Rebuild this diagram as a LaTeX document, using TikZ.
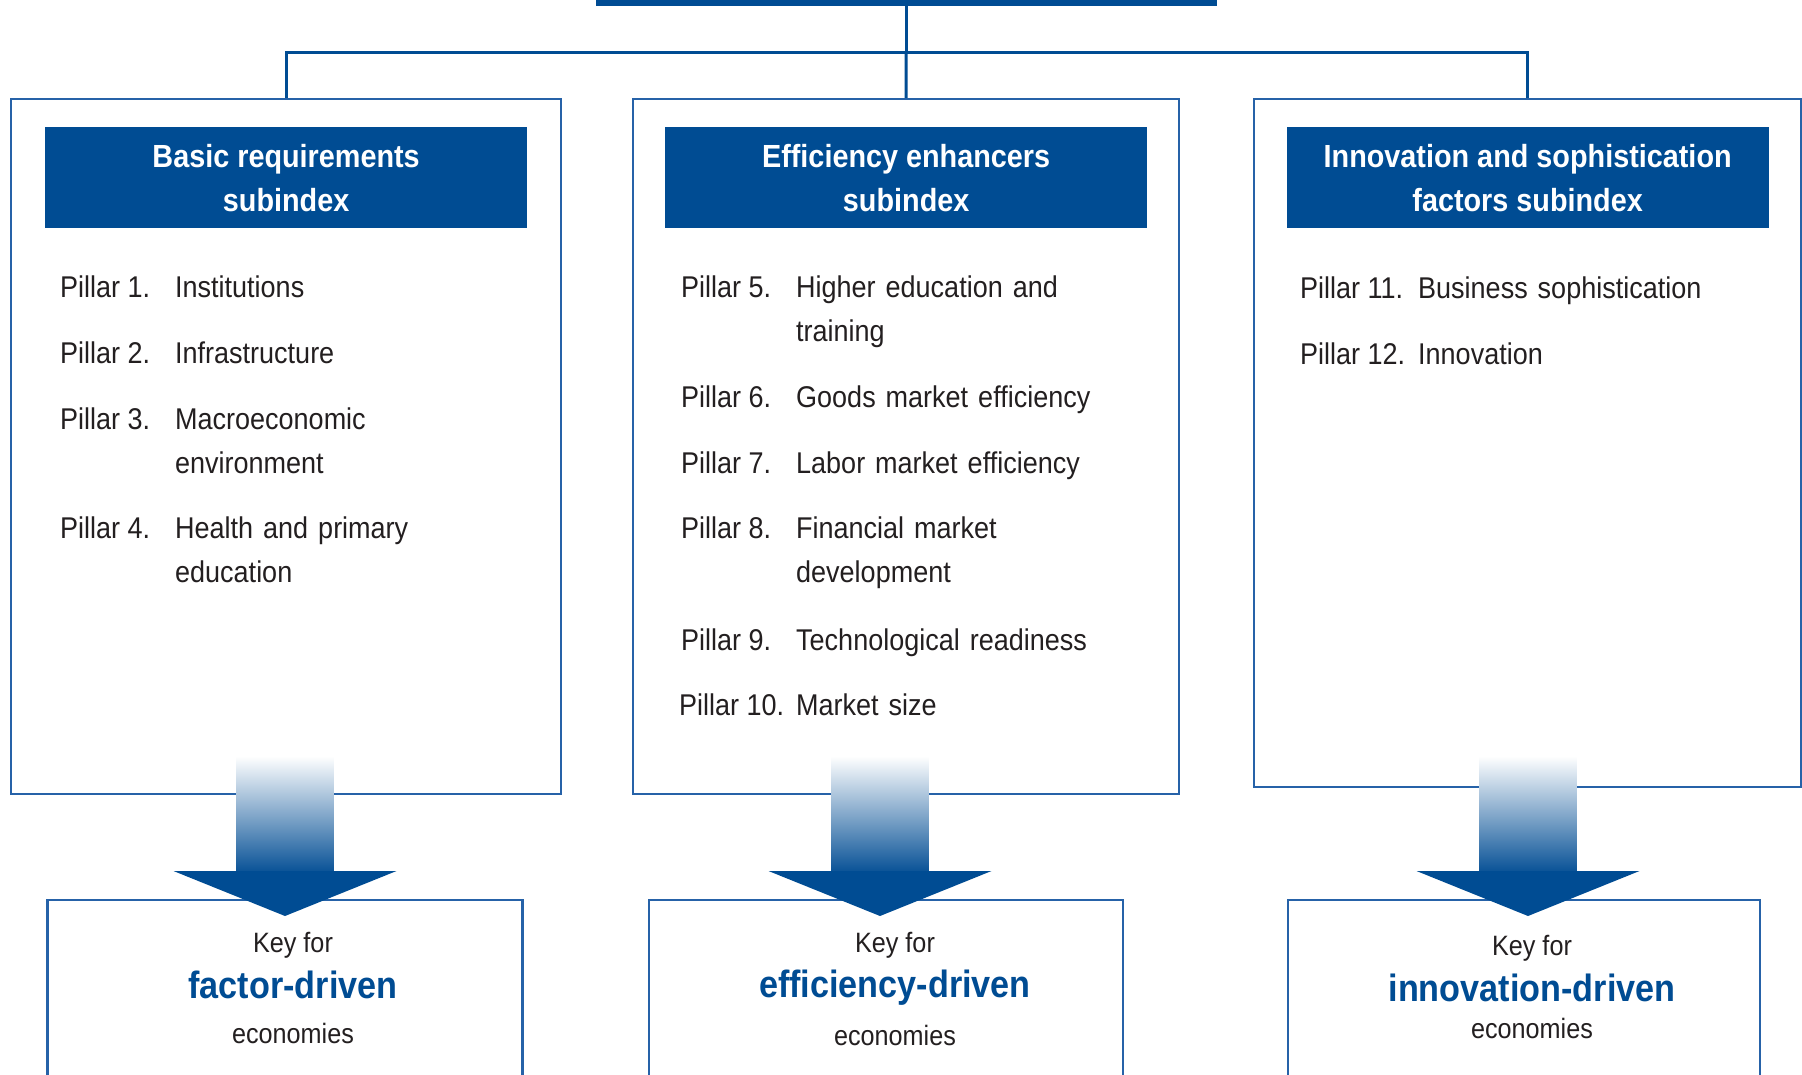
\documentclass[tikz,border=0pt]{standalone}
\usepackage{fontspec}
\setmainfont[FakeStretch=0.9]{Liberation Sans}
\usetikzlibrary{positioning}
\definecolor{wefblue}{RGB}{0,76,147}
\definecolor{frameblue}{RGB}{38,98,168}
\definecolor{ink}{RGB}{35,31,32}

\newcommand{\keyarrow}[1]{%
    \shade[top color=white,bottom color=wefblue]
        (#1-48.5,756) rectangle (#1+48.5,876);
    \fill[wefblue] (#1-111.5,871) -- (#1+111.5,871) -- (#1,916) -- cycle;
}
\newcommand{\keyfor}[6]{% name, x, three baselines, stage
    \node[keytxt] (#1a) at (#2,#3) {Key for};
    \node[keybig] (#1b) at (#2,#4) {#6};
    \node[keytxt] (#1c) at (#2,#5) {economies};
}

\begin{document}
\begin{tikzpicture}[x=1pt,y=-1pt,
    frame/.style={draw=frameblue,line width=2.3pt,fill=white,inner sep=0pt},
    head/.style={fill=wefblue,text=white,font=\fontsize{32}{44}\selectfont\bfseries,
        align=center,minimum width=482pt,minimum height=101pt,inner sep=0pt},
    lab/.style={anchor=base west,inner sep=0pt,text=ink,font=\fontsize{30}{44}\selectfont},
    item/.style={lab,text width=420pt,align=left},
    keytxt/.style={anchor=base,inner sep=0pt,text=ink,font=\fontsize{28}{34}\selectfont},
    keybig/.style={anchor=base,inner sep=0pt,text=wefblue,font=\fontsize{38}{44}\selectfont\bfseries},
    link/.style={draw=wefblue,line width=3pt}]
    \clip (0,0) rectangle (1802,1074);

    % index box, cut by the page
    \node[fill=wefblue,minimum width=621pt,minimum height=40pt,anchor=south] (gci) at (906,6) {};

    % subindexes
    \node[frame,minimum width=550pt,minimum height=695pt,anchor=north west] (colA) at (10,98) {};
    \node[frame,minimum width=546pt,minimum height=695pt,anchor=north west] (colB) at (632,98) {};
    \node[frame,minimum width=547pt,minimum height=688pt,anchor=north west] (colC) at (1253,98) {};

    \coordinate (fork) at (906,52);
    \draw[link] (gci.south) -- (fork);
    \draw[link] (colA.north) |- (fork) -| (colC.north);
    \draw[link] (fork) -- (colB.north);

    \node[head,anchor=north] (hdA) at (colA.north |- 0,127) {Basic requirements\\subindex};
    \node[head,anchor=north] (hdB) at (colB.north |- 0,127) {Efficiency enhancers\\subindex};
    \node[head,anchor=north] (hdC) at (colC.north |- 0,127) {Innovation and sophistication\\factors subindex};

    % pillars
    \foreach \lab/\txt/\y [count=\n] in {Pillar 1./Institutions/297,
            Pillar 2./Infrastructure/363,
            Pillar 3./{Macroeconomic\\environment}/429,
            Pillar 4./{Health and primary\\education}/538} {
        \node[lab] (labA\n) at (60,\y) {\lab};
        \node[item] (txtA\n) at (175,\y) {\txt};
    }
    \foreach \lab/\txt/\y [count=\n] in {Pillar 5./{Higher education and\\training}/297,
            Pillar 6./Goods market efficiency/407,
            Pillar 7./Labor market efficiency/473,
            Pillar 8./{Financial market\\development}/538,
            Pillar 9./Technological readiness/650} {
        \node[lab] (labB\n) at (681,\y) {\lab};
        \node[item] (txtB\n) at (796,\y) {\txt};
    }
    \node[lab] (labB6) at (679,715) {Pillar 10.};
    \node[item] (txtB6) at (796,715) {Market size};
    \foreach \lab/\txt/\y [count=\n] in {Pillar 11./Business sophistication/298,
            Pillar 12./Innovation/364} {
        \node[lab] (labC\n) at (1300,\y) {\lab};
        \node[item] (txtC\n) at (1418,\y) {\txt};
    }

    % stages of development
    \node[frame,minimum width=475pt,minimum height=260pt,anchor=north] (keyA) at (285,899) {};
    \node[frame,minimum width=474pt,minimum height=260pt,anchor=north] (keyB) at (886,899) {};
    \node[frame,minimum width=472pt,minimum height=260pt,anchor=north] (keyC) at (1524,899) {};

    \keyfor{kA}{293}{952}{998}{1043}{factor-driven}
    \keyfor{kB}{895}{952}{997}{1045}{efficiency-driven}
    \keyfor{kC}{1532}{955}{1001}{1038}{innovation-driven}

    \keyarrow{285}
    \keyarrow{880}
    \keyarrow{1528}
\end{tikzpicture}
\end{document}
